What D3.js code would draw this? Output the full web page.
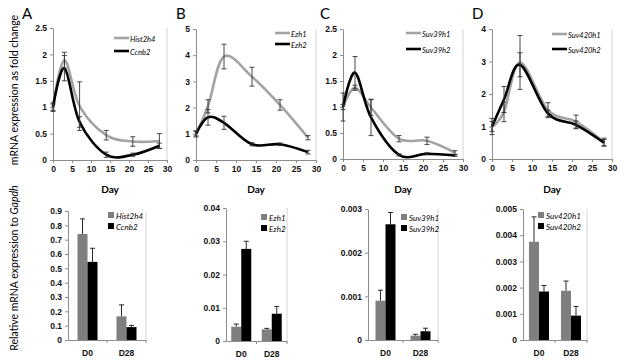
<!DOCTYPE html>
<html>
<head>
<meta charset="utf-8">
<script src="https://cdn.jsdelivr.net/npm/d3@7"></script>
<style>
body { margin: 0; background: #fff; }
svg { font-family: Lato, "Open Sans", sans-serif; }
.axis path, .axis line { stroke: #8c8c8c; }
.axis text { fill: #111; font-size: 8.5px; font-weight: bold; }
</style>
</head>
<body>
<svg width="623" height="363"></svg>
<script>
// time course (days) and fold change values
const days = [0, 3, 7, 14, 21, 28];
const dayTicks = [0, 5, 10, 15, 20, 25, 30];

const hist2h4 = [1, 1.89, 1.02, 0.47, 0.35, 0.36];
const hist2h4Err = [0.06, 0.15, 0.46, 0.09, 0.09, 0.14];
const ccnb2 = [1, 1.74, 0.72, 0.1, 0.1, 0.27];
const ccnb2Err = [0.08, 0.24, 0.1, 0.05, 0.03, 0.05];

const ezh1 = [1, 2.05, 3.95, 3.18, 2.1, 0.85];
const ezh1Err = [0.08, 0.25, 0.47, 0.36, 0.2, 0.08];
const ezh2 = [1, 1.63, 1.42, 0.6, 0.6, 0.3];
const ezh2Err = [0.12, 0.3, 0.25, 0.06, 0.05, 0.07];

const suv39h1 = [1, 1.37, 0.99, 0.39, 0.35, 0.12];
const suv39h1Err = [0.27, 0.05, 0.15, 0.06, 0.07, 0.04];
const suv39h2 = [1, 1.66, 0.8, 0.08, 0.1, 0.07];
const suv39h2Err = [0.05, 0.31, 0.35, 0.02, 0.02, 0.02];

const suv420h1 = [1, 1.45, 2.97, 1.5, 1.15, 0.52];
const suv420h1Err = [0.25, 0.3, 0.83, 0.23, 0.2, 0.12];
const suv420h2 = [1, 1.83, 2.9, 1.4, 1.05, 0.5];
const suv420h2Err = [0.15, 0.4, 0.37, 0.1, 0.12, 0.1];

const ticksA = [0, 0.5, 1, 1.5, 2, 2.5];
const ticksB = [0, 1, 2, 3, 4, 5];
const ticksD = [0, 1, 2, 3, 4];

// D0 / D28 relative expression
const barGroups = ['D0', 'D28'];
const hist2h4Bar = [0.74, 0.165], hist2h4BarErr = [0.105, 0.08];
const ccnb2Bar = [0.545, 0.09], ccnb2BarErr = [0.095, 0.012];
const ezh1Bar = [0.0043, 0.0035], ezh1BarErr = [0.0008, 0.0003];
const ezh2Bar = [0.0277, 0.0082], ezh2BarErr = [0.0023, 0.0022];
const suv39h1Bar = [0.0009, 0.0001], suv39h1BarErr = [0.00024, 0.00003];
const suv39h2Bar = [0.00265, 0.0002], suv39h2BarErr = [0.00027, 0.00007];
const suv420h1Bar = [0.00375, 0.00188], suv420h1BarErr = [0.00095, 0.00037];
const suv420h2Bar = [0.00185, 0.00093], suv420h2BarErr = [0.00023, 0.00035];

const barTicksA = [0, 0.1, 0.2, 0.3, 0.4, 0.5, 0.6, 0.7, 0.8, 0.9];
const barTicksB = [0, 0.01, 0.02, 0.03, 0.04];
const barTicksC = [0, 0.001, 0.002, 0.003];
const barTicksD = [0, 0.001, 0.002, 0.003, 0.004, 0.005];

const GREY_LINE = '#a3a3a3', GREY_BAR = '#7f7f7f', BLACK = '#000';

var svg = d3.select('svg');

let linePanels = [
    {letter: 'A', letterX: 22, x0: 53, x1: 167, top: 28, bottom: 160, ticks: ticksA, lx: 114, ly: 38, lgap: 13,
     series: [['Hist2h4', hist2h4, hist2h4Err], ['Ccnb2', ccnb2, ccnb2Err]]},
    {letter: 'B', letterX: 176, x0: 196, x1: 316, top: 29, bottom: 160, ticks: ticksB, lx: 275, ly: 33, lgap: 11,
     series: [['Ezh1', ezh1, ezh1Err], ['Ezh2', ezh2, ezh2Err]]},
    {letter: 'C', letterX: 320, x0: 343, x1: 463, top: 29, bottom: 159, ticks: ticksA, lx: 406, ly: 33, lgap: 16,
     series: [['Suv39h1', suv39h1, suv39h1Err], ['Suv39h2', suv39h2, suv39h2Err]]},
    {letter: 'D', letterX: 472, x0: 492, x1: 612, top: 29, bottom: 159, ticks: ticksD, lx: 552, ly: 34, lgap: 15,
     series: [['Suv420h1', suv420h1, suv420h1Err], ['Suv420h2', suv420h2, suv420h2Err]]}
];

let barPanels = [
    {x0: 68, x1: 146, top: 211, bottom: 340, ticks: barTicksA, lx: 108, ly: 212,
     series: [['Hist2h4', hist2h4Bar, hist2h4BarErr], ['Ccnb2', ccnb2Bar, ccnb2BarErr]]},
    {x0: 226, x1: 287, top: 208, bottom: 341, ticks: barTicksB, lx: 261, ly: 214,
     series: [['Ezh1', ezh1Bar, ezh1BarErr], ['Ezh2', ezh2Bar, ezh2BarErr]]},
    {x0: 368, x1: 438, top: 209, bottom: 340, ticks: barTicksC, lx: 401, ly: 214,
     series: [['Suv39h1', suv39h1Bar, suv39h1BarErr], ['Suv39h2', suv39h2Bar, suv39h2BarErr]]},
    {x0: 523, x1: 587, top: 209, bottom: 340, ticks: barTicksD, lx: 538, ly: 212,
     series: [['Suv420h1', suv420h1Bar, suv420h1BarErr], ['Suv420h2', suv420h2Bar, suv420h2BarErr]]}
];

function errBar(g, x, y0, y1, cap) {
    g.append('line').attr('x1', x).attr('x2', x).attr('y1', y0).attr('y2', y1);
    g.append('line').attr('x1', x - cap).attr('x2', x + cap).attr('y1', y0).attr('y2', y0);
    g.append('line').attr('x1', x - cap).attr('x2', x + cap).attr('y1', y1).attr('y2', y1);
}

linePanels.forEach(function(p) {
    var x = d3.scaleLinear().domain([0, 30]).range([p.x0, p.x1]);
    var y = d3.scaleLinear().domain([0, d3.max(p.ticks)]).range([p.bottom, p.top]);

    svg.append('line').attr('x1', p.x1).attr('x2', p.x1).attr('y1', p.top).attr('y2', p.bottom)
        .attr('stroke', '#d4d4d4');

    svg.append('g').attr('class', 'axis')
        .attr('transform', `translate(0, ${p.bottom})`)
        .call(d3.axisBottom(x).tickValues(dayTicks).tickSize(3).tickSizeOuter(0));
    svg.append('g').attr('class', 'axis')
        .attr('transform', `translate(${p.x0}, 0)`)
        .call(d3.axisLeft(y).tickValues(p.ticks).tickSize(3).tickSizeOuter(0).tickFormat(d => String(d)));

    var line = d3.line().curve(d3.curveCardinal.tension(0))
        .x((d, i) => x(days[i])).y(d => y(d));

    p.series.forEach(function(s, k) {
        svg.append('path').datum(s[1])
            .attr('d', line)
            .attr('fill', 'none')
            .attr('stroke', k == 0 ? GREY_LINE : BLACK)
            .attr('stroke-width', 2.6);
    });

    var eg = svg.append('g').attr('stroke', '#333').attr('stroke-width', 0.9);
    p.series.forEach(function(s) {
        s[1].forEach(function(v, i) {
            errBar(eg, x(days[i]), y(v + s[2][i]), y(v - s[2][i]), 2.5);
        });
    });

    // legend
    p.series.forEach(function(s, k) {
        var ly = p.ly + k * p.lgap;
        svg.append('line').attr('x1', p.lx).attr('x2', p.lx + 15).attr('y1', ly).attr('y2', ly)
            .attr('stroke', k == 0 ? GREY_LINE : BLACK).attr('stroke-width', 2.6);
        svg.append('text').attr('x', p.lx + 16).attr('y', ly + 4)
            .attr('font-size', 7.5).attr('font-style', 'italic').text(s[0]);
    });

    svg.append('text').attr('x', (p.x0 + p.x1) / 2).attr('y', 193)
        .attr('text-anchor', 'middle').attr('font-size', 10).attr('font-weight', 'bold').text('Day');
    svg.append('text').attr('x', p.letterX).attr('y', 19)
        .attr('font-size', 15).text(p.letter);
});

barPanels.forEach(function(p) {
    var x = d3.scaleBand().domain(barGroups).range([p.x0, p.x1]);
    var xs = d3.scaleBand().domain([0, 1]).range([-10, 10]);
    var y = d3.scaleLinear().domain([0, d3.max(p.ticks)]).range([p.bottom, p.top]);

    svg.append('line').attr('x1', p.x1).attr('x2', p.x1).attr('y1', p.top).attr('y2', p.bottom)
        .attr('stroke', '#d4d4d4');

    svg.append('g').attr('class', 'axis')
        .attr('transform', `translate(0, ${p.bottom})`)
        .call(d3.axisBottom(x).tickSize(3).tickSizeOuter(0))
        .call(g => g.selectAll('.tick line').attr('transform', `translate(${x.bandwidth() / 2}, 0)`))
        .call(g => g.selectAll('.tick text').attr('dy', '1.15em'));
    svg.append('g').attr('class', 'axis')
        .attr('transform', `translate(${p.x0}, 0)`)
        .call(d3.axisLeft(y).tickValues(p.ticks).tickSize(3).tickSizeOuter(0).tickFormat(d => String(d)));

    var eg = svg.append('g').attr('stroke', '#111').attr('stroke-width', 0.9);
    p.series.forEach(function(s, k) {
        barGroups.forEach(function(grp, i) {
            var bx = x(grp) + x.bandwidth() / 2 + xs(k);
            svg.append('rect')
                .attr('x', bx).attr('y', y(s[1][i]))
                .attr('width', xs.bandwidth()).attr('height', p.bottom - y(s[1][i]))
                .attr('fill', k == 0 ? GREY_BAR : BLACK);
            var cx = bx + xs.bandwidth() / 2;
            eg.append('line').attr('x1', cx).attr('x2', cx)
                .attr('y1', y(s[1][i])).attr('y2', y(s[1][i] + s[2][i]));
            eg.append('line').attr('x1', cx - 2.5).attr('x2', cx + 2.5)
                .attr('y1', y(s[1][i] + s[2][i])).attr('y2', y(s[1][i] + s[2][i]));
        });
        svg.append('rect').attr('x', p.lx).attr('y', p.ly + k * 11)
            .attr('width', 6).attr('height', 6).attr('fill', k == 0 ? GREY_BAR : BLACK);
        svg.append('text').attr('x', p.lx + 8).attr('y', p.ly + k * 11 + 6.5)
            .attr('font-size', 8).attr('font-style', 'italic').text(s[0]);
    });
});

svg.append('text')
    .attr('transform', 'translate(18, 90) rotate(-90)')
    .attr('text-anchor', 'middle').attr('font-size', 10.5)
    .text('mRNA expression as fold change');

var yl = svg.append('text')
    .attr('transform', 'translate(18, 268) rotate(-90)')
    .attr('text-anchor', 'middle').attr('font-size', 10.5);
yl.append('tspan').text('Relative mRNA expression to ');
yl.append('tspan').attr('font-style', 'italic').text('Gapdh');
</script>
</body>
</html>
